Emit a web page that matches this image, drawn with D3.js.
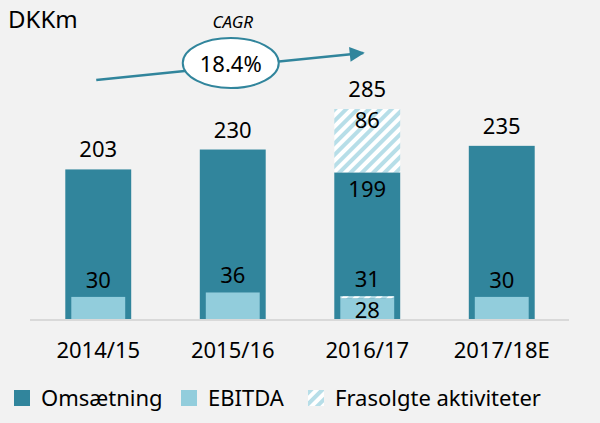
<!DOCTYPE html>
<html>
<head>
<meta charset="utf-8">
<script src="https://cdn.jsdelivr.net/npm/d3@7"></script>
<style>
  body { margin: 0; background: #f2f2f2; }
  svg { display: block; font-family: "Noto Sans", sans-serif; }
</style>
</head>
<body>
<script>
// chart data
const categories = ["2014/15", "2015/16", "2016/17", "2017/18E"]
const revenue = [203, 230, 199, 235]          // Omsætning
const soldRevenue = [0, 0, 86, 0]             // Frasolgte aktiviteter (omsætning)
const ebitda = [30, 36, 28, 30]               // EBITDA
const soldEbitda = [0, 0, 3, 0]               // Frasolgte aktiviteter (EBITDA)
const cagrText = "18.4%"
const legendLabels = ["Omsætning", "EBITDA", "Frasolgte aktiviteter"]

const width = 600
const height = 423
const dark = "#31859c"
const light = "#92cddc"
const stripe = "#b7dee8"

const svg = d3.select("body")
    .append("svg")
    .attr("width", width)
    .attr("height", height)

svg.append("rect")
    .attr("width", width)
    .attr("height", height)
    .style("fill", "#f2f2f2")

// hatch pattern for sold activities
const defs = svg.append("defs")
const pat = defs.append("pattern")
    .attr("id", "hatch")
    .attr("patternUnits", "userSpaceOnUse")
    .attr("width", 8)
    .attr("height", 8)
    .attr("patternTransform", "rotate(45)")
pat.append("rect").attr("width", 8).attr("height", 8).style("fill", "#ffffff")
pat.append("rect").attr("width", 4).attr("height", 8).style("fill", stripe)

const xScale = d3.scaleBand()
    .domain(categories)
    .range([31, 569])
    .paddingInner(0.51)
    .paddingOuter(0.255)

const yScale = d3.scaleLinear()
    .domain([0, 285])
    .range([319, 109])

const bw = xScale.bandwidth()
const inset = 6

const rows = categories.map((c, i) => ({
    cat: c,
    rev: revenue[i],
    sold: soldRevenue[i],
    eb: ebitda[i],
    ebSold: soldEbitda[i]
}))

// baseline
svg.append("line")
    .attr("x1", 30).attr("x2", 569)
    .attr("y1", yScale(0) + 1).attr("y2", yScale(0) + 1)
    .style("stroke", "#d9d9d9")
    .style("stroke-width", 2)

const g = svg.selectAll("g.bar")
    .data(rows)
    .enter()
    .append("g")
    .attr("class", "bar")

// revenue bars
g.append("rect")
    .attr("x", d => xScale(d.cat))
    .attr("width", bw)
    .attr("y", d => yScale(d.rev))
    .attr("height", d => yScale(0) - yScale(d.rev))
    .style("fill", dark)

// sold revenue (hatched)
g.filter(d => d.sold > 0)
    .append("rect")
    .attr("x", d => xScale(d.cat))
    .attr("width", bw)
    .attr("y", d => yScale(d.rev + d.sold))
    .attr("height", d => yScale(d.rev) - yScale(d.rev + d.sold))
    .style("fill", "url(#hatch)")

// ebitda bars
g.append("rect")
    .attr("x", d => xScale(d.cat) + inset)
    .attr("width", bw - 2 * inset)
    .attr("y", d => yScale(d.eb))
    .attr("height", d => yScale(0) - yScale(d.eb))
    .style("fill", light)

g.filter(d => d.ebSold > 0)
    .append("rect")
    .attr("x", d => xScale(d.cat) + inset)
    .attr("width", bw - 2 * inset)
    .attr("y", d => yScale(d.eb + d.ebSold))
    .attr("height", d => yScale(d.eb) - yScale(d.eb + d.ebSold))
    .style("fill", "url(#hatch)")

const cx = d => xScale(d.cat) + bw / 2

function label(sel, y, txt){
    sel.append("text")
        .attr("x", cx)
        .attr("y", y)
        .attr("text-anchor", "middle")
        .style("font-size", "22px")
        .style("fill", "#000")
        .text(txt)
}

// totals above bars
label(g, d => yScale(d.rev + d.sold) - 12, d => d.rev + d.sold)
// segment labels for bar with sold activities
const s = g.filter(d => d.sold > 0)
label(s, d => yScale(d.rev + d.sold) + 19, d => d.sold)
label(s, d => yScale(d.rev) + 25, d => d.rev)
label(s, d => yScale(0) - 1, d => d.eb)
// ebitda total labels
label(g, d => yScale(d.eb + d.ebSold) - 9, d => d.eb + d.ebSold)

// category axis labels
svg.selectAll("text.cat")
    .data(categories)
    .enter()
    .append("text")
    .attr("class", "cat")
    .attr("x", d => xScale(d) + bw / 2)
    .attr("y", 358)
    .attr("text-anchor", "middle")
    .style("font-size", "22px")
    .text(d => d)

// unit title
svg.append("text")
    .attr("x", 8).attr("y", 28)
    .style("font-size", "24px")
    .text("DKKm")

// CAGR arrow
const ax1 = xScale(categories[0]) + bw / 2 - 2
const ax2 = xScale(categories[2]) + bw / 2 - 4
const ay1 = 80, ay2 = 53
defs.append("marker")
    .attr("id", "arrow")
    .attr("viewBox", "0 0 10 10")
    .attr("refX", 9).attr("refY", 5)
    .attr("markerWidth", 6.5).attr("markerHeight", 6)
    .attr("orient", "auto")
    .append("path")
    .attr("d", "M0,0 L10,5 L0,10 z")
    .style("fill", dark)

svg.append("line")
    .attr("x1", ax1).attr("y1", ay1)
    .attr("x2", ax2).attr("y2", ay2)
    .style("stroke", dark)
    .style("stroke-width", 2.5)
    .attr("marker-end", "url(#arrow)")

const ex = xScale(categories[1]) + bw / 2 - 2
svg.append("ellipse")
    .attr("cx", ex).attr("cy", 63)
    .attr("rx", 48).attr("ry", 25)
    .style("fill", "#ffffff")
    .style("stroke", dark)
    .style("stroke-width", 2)

svg.append("text")
    .attr("x", ex).attr("y", 72)
    .attr("text-anchor", "middle")
    .style("font-size", "22px")
    .text(cagrText)

svg.append("text")
    .attr("x", ex + 2).attr("y", 28)
    .attr("text-anchor", "middle")
    .style("font-size", "17px")
    .style("font-style", "italic")
    .text("CAGR")

// legend
const legendX = [14, 181, 308]
const legendFill = [dark, light, "url(#hatch)"]
const lg = svg.selectAll("g.legend")
    .data(legendLabels)
    .enter()
    .append("g")
    .attr("class", "legend")
    .attr("transform", (d, i) => `translate(${legendX[i]},390)`)
lg.append("rect")
    .attr("width", 16).attr("height", 16)
    .style("fill", (d, i) => legendFill[i])
lg.append("text")
    .attr("x", 27).attr("y", 16)
    .style("font-size", "22px")
    .text(d => d)
</script>
</body>
</html>
